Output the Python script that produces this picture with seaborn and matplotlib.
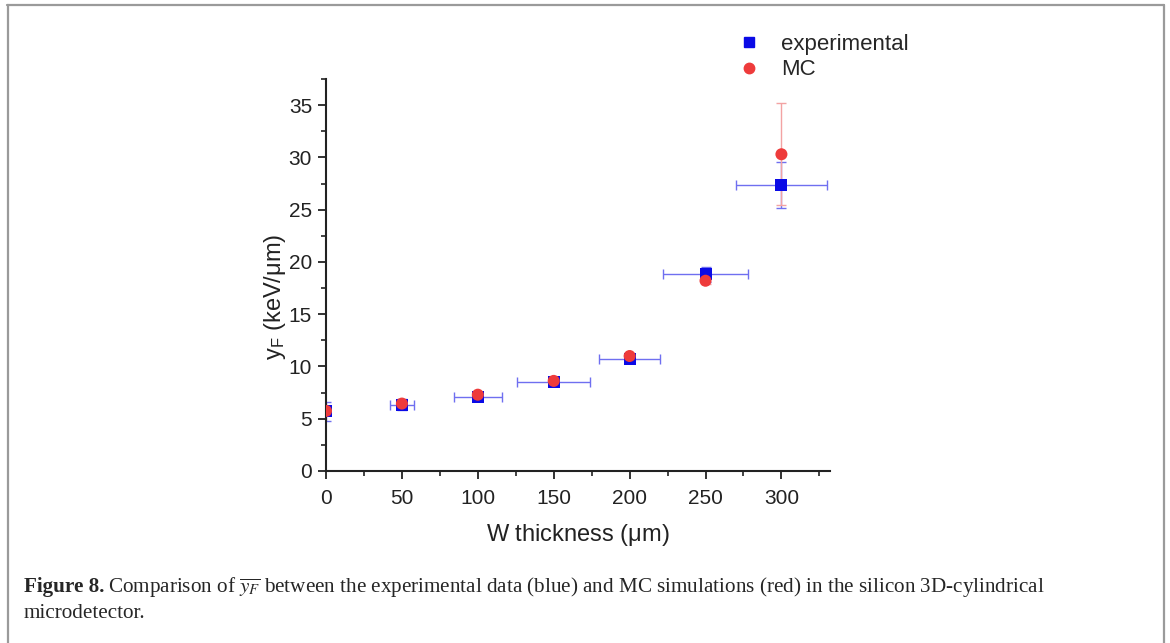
import numpy as np
import matplotlib
matplotlib.use("Agg")
import matplotlib.pyplot as plt
import seaborn as sns
import pandas as pd
from matplotlib.lines import Line2D
from matplotlib.ticker import MultipleLocator

# -----------------------------
# Data
# -----------------------------
thickness = [0, 50, 100, 150, 200, 250, 300]
exp_y = [5.7, 6.35, 7.1, 8.5, 10.75, 18.8, 27.4]
exp_yerr = [0.92, 0.5, 0.25, 0.25, 0.25, 0.72, 2.2]
exp_xerr = [0, 8, 16, 24, 20, 28, 30]
mc_y = [5.75, 6.45, 7.3, 8.62, 11.0, 18.2, 30.3]
mc_yerr = [0.3, 0.3, 0.2, 0.2, 0.2, 0.3, 4.9]

df = pd.DataFrame({"x": thickness + thickness,
                   "y": exp_y + mc_y,
                   "series": ["experimental"] * 7 + ["MC"] * 7})

sns.set_theme(style="ticks")
plt.rcParams["font.family"] = ["Liberation Sans", "DejaVu Sans"]
plt.rcParams["mathtext.fontset"] = "custom"
plt.rcParams["mathtext.rm"] = "Liberation Sans"
plt.rcParams["mathtext.it"] = "Liberation Sans:italic"

blue = "#0a0ae6"
red = "#ee3b3b"
ink = "#222222"

fig = plt.figure(figsize=(11.7, 6.43), dpi=100)
ax = fig.add_axes([326 / 1170, 1 - 471 / 643, 504 / 1170, 392 / 643])

# error bars
ax.errorbar(thickness, exp_y, yerr=exp_yerr, xerr=exp_xerr, fmt="none",
            ecolor="#6f6ff0", elinewidth=1.0, capsize=3.5, capthick=1.0, zorder=2)
ax.errorbar(thickness, mc_y, yerr=mc_yerr, fmt="none",
            ecolor="#f3a3a3", elinewidth=1.0, capsize=3.5, capthick=1.0, zorder=2.5)

# markers
sns.scatterplot(data=df, x="x", y="y", hue="series", style="series",
                palette={"experimental": blue, "MC": red},
                markers={"experimental": "s", "MC": "o"},
                s=75, linewidth=0, ax=ax, zorder=3, legend=False)

ax.set_xlim(0, 332)
ax.set_ylim(0, 37.5)
ax.xaxis.set_major_locator(MultipleLocator(50))
ax.xaxis.set_minor_locator(MultipleLocator(25))
ax.yaxis.set_major_locator(MultipleLocator(5))
ax.yaxis.set_minor_locator(MultipleLocator(2.5))
sns.despine(ax=ax)
for s in ["left", "bottom"]:
    ax.spines[s].set_linewidth(1.5)
    ax.spines[s].set_color(ink)
ax.tick_params(which="major", length=6, width=1.3, labelsize=15, colors=ink)
ax.tick_params(axis="x", which="major", pad=7)
ax.tick_params(axis="y", which="major", pad=4)
ax.tick_params(which="minor", length=3.5, width=1.2, colors=ink)
ax.set_xlabel(r"W thickness ($\mathrm{\mu}$m)", fontsize=17, labelpad=10, color=ink)
ax.set_ylabel(r"y$_\mathrm{F}$ (keV/$\mathrm{\mu}$m)", fontsize=17, color=ink)
ax.yaxis.set_label_coords(-0.075, 0.445)

# legend
handles = [Line2D([], [], marker="s", color=blue, linestyle="none", markersize=6.5),
           Line2D([], [], marker="o", color=red, linestyle="none", markersize=7.5)]
fig.legend(handles, ["experimental", "MC"], loc="upper left",
           bbox_to_anchor=(718 / 1170, 1 - 25 / 643), frameon=False,
           fontsize=16, handletextpad=0.45, labelspacing=0.2, borderaxespad=0)

# outer frame
frame_kw = dict(color="#9a9a9a", linewidth=1.6, transform=fig.transFigure)
fig.add_artist(Line2D([7 / 1170, 1164 / 1170], [1 - 5 / 643, 1 - 5 / 643], **frame_kw))
fig.add_artist(Line2D([7.5 / 1170, 7.5 / 1170], [0, 1 - 5 / 643], **frame_kw))
fig.add_artist(Line2D([1163.5 / 1170, 1163.5 / 1170], [0, 1 - 5 / 643], **frame_kw))

# caption
cap_kw = dict(fontsize=15.2, family=["Liberation Serif", "DejaVu Serif"], va="baseline")
t1 = fig.text(24 / 1170, 1 - 592 / 643, "Figure 8.", fontweight="bold", **cap_kw)
fig.canvas.draw()
bb = t1.get_window_extent()
plt.rcParams["mathtext.fontset"] = "stix"
fig.text(bb.x1 / 1170 + 4 / 1170, 1 - 592 / 643,
         r"Comparison of $\overline{y_F}$ between the experimental data (blue) and MC simulations (red) in the silicon 3D-cylindrical",
         **cap_kw)
fig.text(24 / 1170, 1 - 618 / 643, "microdetector.", **cap_kw)

fig.savefig("out.png", dpi=100)
